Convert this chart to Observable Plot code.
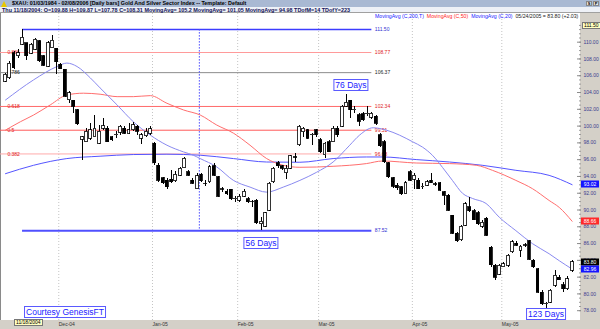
<!DOCTYPE html>
<html><head><meta charset="utf-8">
<script src="https://cdn.jsdelivr.net/npm/d3@7"></script>
<script src="https://cdn.jsdelivr.net/npm/@observablehq/plot@0.6"></script>
<style>
body{margin:0;background:#fff;}
#wrap{position:relative;width:600px;height:329px;background:#d4d0c8;overflow:hidden;font-family:"Liberation Sans",Arial,sans-serif;}
#plotbg{position:absolute;left:0;top:13px;width:580px;height:307px;background:#fff;border-left:1px solid #8a8a8a;box-sizing:border-box;}
#row1{position:absolute;left:0;top:0;width:600px;height:7px;background:#a9b9d3;font-size:5.4px;font-weight:bold;line-height:7px;color:#000;white-space:nowrap;}
#row1 .t{position:absolute;left:12px;top:0;}
#row1 .ic{position:absolute;left:1px;top:1px;width:0;height:0;border-left:3.5px solid transparent;border-right:3.5px solid transparent;border-bottom:6px solid #e8c800;}
#row1 .b{position:absolute;top:1px;width:6px;height:5px;background:#e4e4e4;border:1px solid #888;box-sizing:border-box;font-size:4px;line-height:4px;text-align:center;}
#row2{position:absolute;left:0;top:7px;width:600px;height:6px;background:#eef1f7;font-size:5.45px;font-weight:bold;line-height:6px;color:#14145a;white-space:nowrap;border-bottom:1px solid #a0a0a0;box-sizing:border-box;padding-left:2px;}
#legend{position:absolute;left:375px;top:13px;font-size:5.2px;line-height:6px;white-space:nowrap;}
#chart{position:absolute;left:0;top:13px;}
.dbox{position:absolute;transform:translate(-50%,-50%);border:1px solid #5a5aff;background:#fff;color:#2222ff;font-size:8.5px;line-height:10px;padding:0 1px;white-space:nowrap;}
.vbox{position:absolute;left:581px;width:18px;height:7px;transform:translateY(-50%);font-size:5px;line-height:7px;text-align:center;color:#fff;}
.ybox{position:absolute;background:#ffffc0;border:1px solid #777;font-size:5px;line-height:5px;padding:0 1px;color:#000;white-space:nowrap;}
</style></head>
<body>
<div id="wrap">
  <div id="plotbg"></div>
  <div id="row1"><div class="ic"></div><span class="t">$XAU: 01/03/1984 - 02/08/2006 [Daily bars] Gold And Silver Sector Index -- Template: Default</span><div class="b" style="left:586px">S</div><div class="b" style="left:593px">P</div></div>
  <div id="row2">Thu 11/18/2004: O=109.88 H=109.87 L=107.78 C=108.31 MovingAvg= 105.2 MovingAvg= 101.05 MovingAvg= 94.98 TDofM=14 TDofY=223</div>
  <div id="chart"></div>
  <div id="legend"><span style="color:#2020ff">MovingAvg (C,200,T)</span>&nbsp; <span style="color:#ff2020">MovingAvg (C,50)</span>&nbsp; <span style="color:#2020ff">MovingAvg (C,20)</span>&nbsp; <span style="color:#222">05/24/2005 = 83.80 (+2.03)</span></div>
  <div class="ybox" style="left:582px;top:22px">111.50</div>
  <div class="ybox" style="left:14px;top:319px">11/18/2004</div>
  <div class="dbox" style="left:65px;top:312px;transform:translate(-50%,-50%)">Courtesy GenesisFT</div>
</div>
<script>
// ---- Daily OHLC, trading-day index 0..133 (11/11/2004 .. 05/24/2005)
const openV  = [105.3,105.7,108.7,108.3,109.7,109.88,108.6,109.1,110.1,108.3,107.1,109.3,109.2,107.3,106.7,103.1,103.0,101.9,98.4,98.1,98.5,98.7,97.9,99.7,99.7,98.7,98.9,99.2,99.7,99.1,99.5,99.9,98.5,98.8,99.1,97.9,95.3,93.8,93.5,93.6,93.4,94.1,95.0,94.5,93.5,92.5,94.2,93.1,93.3,95.2,93.9,92.4,92.2,92.4,91.3,91.1,91.6,91.3,90.9,91.1,88.3,88.0,89.9,93.3,95.6,95.2,94.4,94.9,96.2,97.7,99.25,99.5,98.9,99.5,98.3,96.5,98.1,98.1,99.7,99.9,102.3,103.0,101.9,101.3,101.4,101.4,101.0,101.1,98.9,98.1,95.6,93.8,92.9,92.7,91.9,94.5,93.6,93.5,92.7,92.9,93.5,93.0,93.2,92.1,91.7,89.3,87.2,86.4,88.1,90.3,89.85,89.6,88.0,88.95,85.5,83.35,82.3,83.2,83.35,84.95,86.0,85.15,85.75,86.25,83.95,82.95,80.15,78.75,78.95,80.95,81.95,81.05,80.55,82.75];
const highV  = [106.3,107.7,108.9,109.1,111.5,109.9,109.9,110.4,110.2,108.4,110.1,110.8,109.3,107.5,106.8,104.1,103.1,102.0,98.8,99.7,100.3,101.3,100.1,100.9,99.9,98.8,99.4,100.1,99.9,100.3,100.4,100.1,99.1,99.7,99.9,98.1,95.6,93.9,93.7,94.7,94.6,95.1,96.3,94.7,93.7,94.3,94.4,93.5,95.3,95.5,94.0,92.7,92.4,92.5,91.6,91.9,92.5,91.5,91.1,91.2,89.1,89.7,93.3,95.1,95.8,95.3,95.3,96.5,96.7,100.1,99.8,99.6,99.1,99.6,98.5,98.1,98.3,99.9,99.9,102.5,103.8,103.1,102.3,101.5,101.6,102.3,101.6,101.3,99.1,98.3,95.7,93.9,93.1,92.8,93.4,94.7,94.4,93.8,93.2,93.5,94.3,93.3,93.3,92.2,91.85,89.4,87.3,88.1,90.9,91.5,90.05,89.8,88.75,89.1,85.6,83.5,83.5,83.7,84.7,86.35,86.2,85.75,86.0,86.4,84.05,83.0,80.35,78.95,80.5,82.8,82.15,81.35,82.05,83.95];
const lowV   = [105.2,105.5,106.8,108.1,109.6,107.78,108.5,109.0,107.6,107.1,107.0,109.2,106.1,106.7,103.4,102.7,101.5,100.1,95.9,98.0,98.3,98.6,97.8,99.5,98.0,98.2,98.5,98.9,99.0,99.0,99.4,98.9,97.8,98.7,98.9,95.3,93.3,93.0,92.5,93.1,93.3,94.0,94.9,94.0,93.0,92.4,93.3,92.8,93.2,94.0,91.5,92.1,91.7,91.1,90.9,90.9,91.5,90.8,90.3,88.3,87.52,87.9,89.8,93.2,94.9,94.7,93.6,94.8,95.7,97.6,98.7,98.4,97.7,98.7,96.7,96.1,96.8,98.0,98.7,99.8,102.2,100.9,101.5,100.0,100.5,101.2,100.8,100.1,97.5,95.6,93.8,92.6,92.3,91.7,91.8,93.4,92.5,92.4,92.4,92.8,93.1,92.8,92.2,90.5,89.8,87.1,86.1,86.3,88.0,89.7,88.7,88.1,87.8,86.8,83.2,81.6,82.15,83.1,83.2,84.85,85.6,84.35,85.5,83.95,83.05,80.1,78.65,78.3,78.85,80.75,81.55,80.15,80.4,82.6];
const closeV = [106.1,107.4,106.9,108.7,110.5,108.31,109.7,110.3,107.7,107.2,109.9,110.2,107.6,106.8,103.5,103.9,102.3,100.2,98.7,99.3,99.5,99.7,99.3,100.0,98.1,98.3,98.95,99.9,99.1,99.5,100.1,99.3,98.9,99.3,99.6,95.6,93.5,93.2,92.7,93.3,94.2,94.9,96.1,94.1,93.1,94.0,93.4,93.15,95.1,94.1,91.6,92.45,91.9,91.3,91.35,91.6,92.2,90.9,90.95,88.4,88.6,89.6,93.1,94.9,95.2,94.9,94.9,96.4,96.3,99.9,99.7,98.5,98.95,98.9,96.9,97.9,96.9,99.7,98.9,102.3,102.8,101.9,101.95,100.5,100.7,101.45,101.5,100.3,97.6,95.7,93.9,92.8,92.6,91.9,93.2,93.5,94.1,92.5,92.75,93.3,93.2,93.05,92.3,91.7,89.9,87.15,86.3,88.0,90.7,89.85,88.8,88.3,88.5,86.95,83.4,81.9,83.35,83.55,84.55,86.15,85.75,85.6,85.8,84.05,83.15,80.15,78.75,78.8,80.35,82.15,81.65,80.55,81.77,83.80];

// ---- Moving averages (trading-day index, value)
const ma200Idx = [0,6.6,14.4,22.2,30,37.9,45.7,53.5,61.3,69.1,76.9,84.7,88.5,96.4,104.2,111.9,119.8,127.6,133];
const ma200Val = [94.33,95.33,96.13,96.41,96.61,96.65,96.53,96.13,95.72,95.69,96.13,96.32,96.32,96.01,95.72,95.33,94.73,94.13,93.02];
const ma50Idx  = [0,3.5,6.6,10.5,14.4,18.3,22.2,26.2,30,34,37.9,41.8,45.7,49.6,53.5,57.4,61.3,65.2,69.1,76.9,84.7,88.5,96.4,104.2,110.5,114.3,119.8,123.7,127.6,130,133];
const ma50Val  = [99.52,100.52,101.32,102.52,103.71,103.92,103.80,103.51,103.51,103.63,102.72,101.92,101.32,100.12,99.16,97.72,96.13,95.33,95.09,95.21,95.53,95.84,95.60,95.53,95.33,94.73,93.53,92.54,91.14,90.30,88.66];
const ma20Idx  = [0,6.6,12.1,14.4,16.8,19.9,22.2,26.2,30,34,37.9,41.8,44.1,45.7,49.6,53.5,57.4,61.3,65.2,69.1,73,76.9,80.8,83.1,86.3,89.4,92.5,95.6,97.9,100.2,103.4,104.9,107.3,109.6,112.8,115.9,119.8,123.7,127.6,130,133];
const ma20Val  = [103.11,105.51,107.10,107.51,107.10,105.75,104.55,102.52,100.52,98.92,97.72,96.92,96.53,96.13,95.13,93.53,92.73,92.13,92.73,93.53,94.49,95.72,97.72,98.92,99.80,99.52,98.92,98.12,97.49,96.53,94.53,93.53,91.98,91.38,90.78,89.14,87.54,85.99,84.79,83.95,82.96];

// ---- Retracement tool: swing high at idx 4, swing low 87.52, tool ends at idx 86
const levelVals   = [111.50,108.77,106.37,102.34,99.51,96.68,87.52];
const levelLabels = ["111.50","108.77","106.37","102.34","99.51","96.68","87.52"];
const fibRatios   = ["","0.886","0.786","0.618","0.5","0.382",""];
const swingIdx = 4, toolEndIdx = 86, toolMidIdx = 45.5, leftEdgeIdx = -1.2;

// ---- Axis ticks
const monthTicks  = [12.5,34.5,54.5,73.5,95.5,116.5];
const monthLabels = ["Dec-04","Jan-05","Feb-05","Mar-05","Apr-05","May-05"];
const yMajor = d3.range(78, 110.001, 2);
const yMinor = d3.range(78, 112.001, 0.5);

// ---- Annotations
const dayLabels = ["56 Days","76 Days","123 Days"];
const dayIdx    = [60.1, 81.2, 127];
const dayVal    = [86.0, 104.85, 77.55];
const lastLabels = ["93.02","88.66","83.80","82.96"];
const lastVals   = [93.02, 88.66, 83.80, 82.96];

// styles (kept apart from data)
const levelStroke = ["#3c3cff","#ff9a9a","#8c8c8c","#ff6a6a","#ff5a5a","#ffaaaa","#5050ff"];
const levelWidth  = [1.5,1,1,1,1,1,2];
const levelText   = ["#3030d0","#e02020","#222","#e02020","#e02020","#e02020","#3030d0"];
const lastBg = ["#1414ff","#ff2a2a","#000","#1414ff"];

const candles = openV.map((o,i)=>({i, open:o, high:highV[i], low:lowV[i], close:closeV[i]}));
const toPts = (ix, vs) => ix.map((i,k)=>({i, v: vs[k]}));
const levels = levelVals.map((v,k)=>({k, v, label: levelLabels[k], fib: fibRatios[k],
  start: (k===0||k===levelVals.length-1) ? swingIdx : leftEdgeIdx}));

const chart = Plot.plot({
  width: 600, height: 316,
  marginTop: 0, marginBottom: 9, marginLeft: 0, marginRight: 20,
  x: {domain: [0,133], range: [5, 571.6]},
  y: {domain: [78,112], range: [297.2, 11.9]},
  style: {background: "transparent", fontFamily: "Liberation Sans, Arial, sans-serif", overflow: "visible"},
  marks: [
    Plot.ruleX(monthTicks, {stroke: "#c4c4c4", strokeDasharray: "1,2"}),
    Plot.axisX(monthTicks, {anchor: "bottom", tickSize: 0, tickPadding: 1.5, textAnchor: "start", fontSize: 5, fill: "#333",
      tickFormat: d => monthLabels[monthTicks.indexOf(d)], label: null}),
    Plot.axisY(yMinor, {anchor: "right", tickSize: 2, dx: -2, tickFormat: () => "", stroke: "#9a9a9a", label: null}),
    Plot.axisY(yMajor, {anchor: "right", tickSize: 4, dx: -4, tickPadding: 3, textAnchor: "start", fontSize: 5,
      fill: "#3b3b8f", stroke: "#8a8a8a", tickFormat: d => d.toFixed(2), label: null}),
    Plot.ruleY(levels, {y: "v", x1: "start", x2: () => toolEndIdx, stroke: d => levelStroke[d.k], strokeWidth: d => levelWidth[d.k]}),
    Plot.ruleX([toolMidIdx], {y1: () => levelVals[0], y2: () => levelVals[levelVals.length-1], stroke: "#4848ff", strokeDasharray: "1.5,1.5"}),
    Plot.text(levels, {x: () => toolEndIdx, y: "v", text: "label", textAnchor: "start", dx: 3, fontSize: 5, fill: d => levelText[d.k]}),
    Plot.text(levels.filter(d => d.fib), {x: () => leftEdgeIdx, y: "v", text: "fib", textAnchor: "start", dx: 7, fontSize: 5, fill: d => levelText[d.k]}),
    Plot.line(toPts(ma200Idx, ma200Val), {x: "i", y: "v", stroke: "#5555ff", strokeWidth: 1, curve: "monotone-x"}),
    Plot.line(toPts(ma50Idx, ma50Val), {x: "i", y: "v", stroke: "#ff6e6e", strokeWidth: 1, curve: "monotone-x"}),
    Plot.line(toPts(ma20Idx, ma20Val), {x: "i", y: "v", stroke: "#8a8af0", strokeWidth: 1, curve: "monotone-x"}),
    Plot.ruleX(candles, {x: "i", y1: "low", y2: "high", stroke: "#000", strokeWidth: 1, shapeRendering: "crispEdges"}),
    Plot.rect(candles, {x1: d => d.i - 0.34, x2: d => d.i + 0.34, y1: "open", y2: "close",
      fill: d => d.close >= d.open ? "#fff" : "#000", stroke: "#000", strokeWidth: 0.8, shapeRendering: "crispEdges"})
  ]
});
document.getElementById("chart").appendChild(chart);

const sx = chart.scale("x"), sy = chart.scale("y");
const wrap = document.getElementById("wrap");
const top0 = 13;
dayLabels.forEach((t,k) => {
  const d = document.createElement("div");
  d.className = "dbox"; d.textContent = t;
  d.style.left = sx.apply(dayIdx[k]) + "px";
  d.style.top = (sy.apply(dayVal[k]) + top0) + "px";
  wrap.appendChild(d);
});
lastLabels.forEach((t,k) => {
  const d = document.createElement("div");
  d.className = "vbox"; d.textContent = t;
  d.style.background = lastBg[k];
  d.style.top = (sy.apply(lastVals[k]) + top0) + "px";
  wrap.appendChild(d);
});
</script>
</body></html>
